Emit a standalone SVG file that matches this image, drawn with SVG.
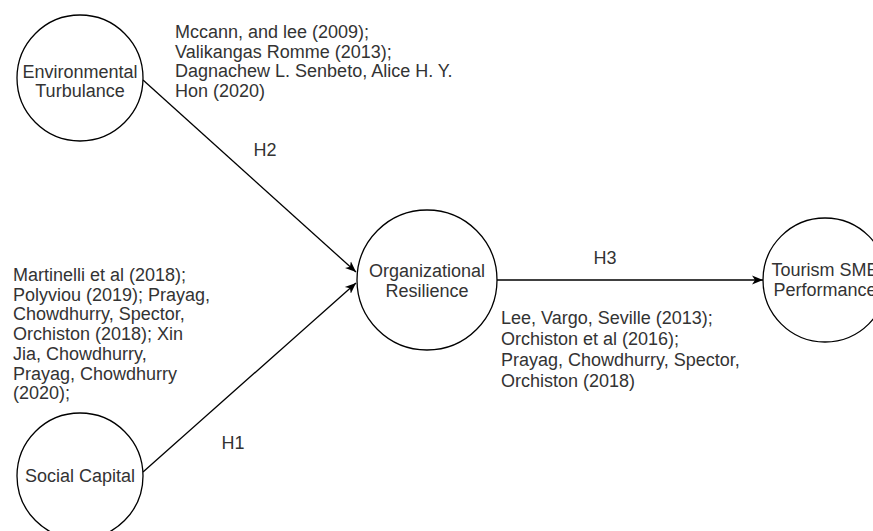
<svg xmlns="http://www.w3.org/2000/svg" width="873" height="531" viewBox="0 0 873 531">
<defs>
<style>
.node{fill:#fff;stroke:#000;stroke-width:1.3}
.lbl{font-family:"Liberation Sans",Arial,sans-serif;font-size:18px;fill:#333}
.c{text-anchor:middle}
.edge{stroke:#000;stroke-width:1.3;fill:none;marker-end:url(#arr)}
</style>
<marker id="arr" markerUnits="userSpaceOnUse" viewBox="0 0 12 10" refX="11" refY="5" markerWidth="12" markerHeight="10" orient="auto">
<path d="M11,5 L0,0.5 L3,5 L0,9.5 Z" fill="#000"/>
</marker>
</defs>
<rect width="873" height="531" fill="#fff"/>
<g id="connectors">
<path class="edge" d="M143,80 L356,272"/>
<path class="edge" d="M143,472 L356,283"/>
<path class="edge" d="M497,280 L763,280"/>
<text class="lbl c" x="265" y="156">H2</text>
<text class="lbl c" x="233" y="449">H1</text>
<text class="lbl c" x="605" y="264">H3</text>
</g>
<g id="env">
<circle class="node" cx="80" cy="78" r="63"/>
<text class="lbl c" x="80" y="78">Environmental</text>
<text class="lbl c" x="80" y="97">Turbulance</text>
</g>
<g id="social">
<circle class="node" cx="80" cy="476" r="63"/>
<text class="lbl c" x="80" y="482">Social Capital</text>
</g>
<g id="org">
<circle class="node" cx="427" cy="280" r="70"/>
<text class="lbl c" x="427" y="277">Organizational</text>
<text class="lbl c" x="427" y="297">Resilience</text>
</g>
<g id="tourism">
<circle class="node" cx="825" cy="280" r="62"/>
<text class="lbl c" x="825" y="276">Tourism SME</text>
<text class="lbl c" x="825" y="296">Performance</text>
</g>
<g id="ref-env">
<text class="lbl" x="175" y="38">Mccann, and lee (2009);</text>
<text class="lbl" x="175" y="57.5">Valikangas Romme (2013);</text>
<text class="lbl" x="175" y="77">Dagnachew L. Senbeto, Alice H. Y.</text>
<text class="lbl" x="175" y="96.5">Hon (2020)</text>
</g>
<g id="ref-social">
<text class="lbl" x="13" y="281">Martinelli et al (2018);</text>
<text class="lbl" x="13" y="300.7">Polyviou (2019); Prayag,</text>
<text class="lbl" x="13" y="320.4">Chowdhurry, Spector,</text>
<text class="lbl" x="13" y="340.1">Orchiston (2018); Xin</text>
<text class="lbl" x="13" y="359.8">Jia, Chowdhurry,</text>
<text class="lbl" x="13" y="379.5">Prayag, Chowdhurry</text>
<text class="lbl" x="13" y="399.2">(2020);</text>
</g>
<g id="ref-org">
<text class="lbl" x="501" y="324">Lee, Vargo, Seville (2013);</text>
<text class="lbl" x="501" y="345">Orchiston et al (2016);</text>
<text class="lbl" x="501" y="366">Prayag, Chowdhurry, Spector,</text>
<text class="lbl" x="501" y="387">Orchiston (2018)</text>
</g>
</svg>
